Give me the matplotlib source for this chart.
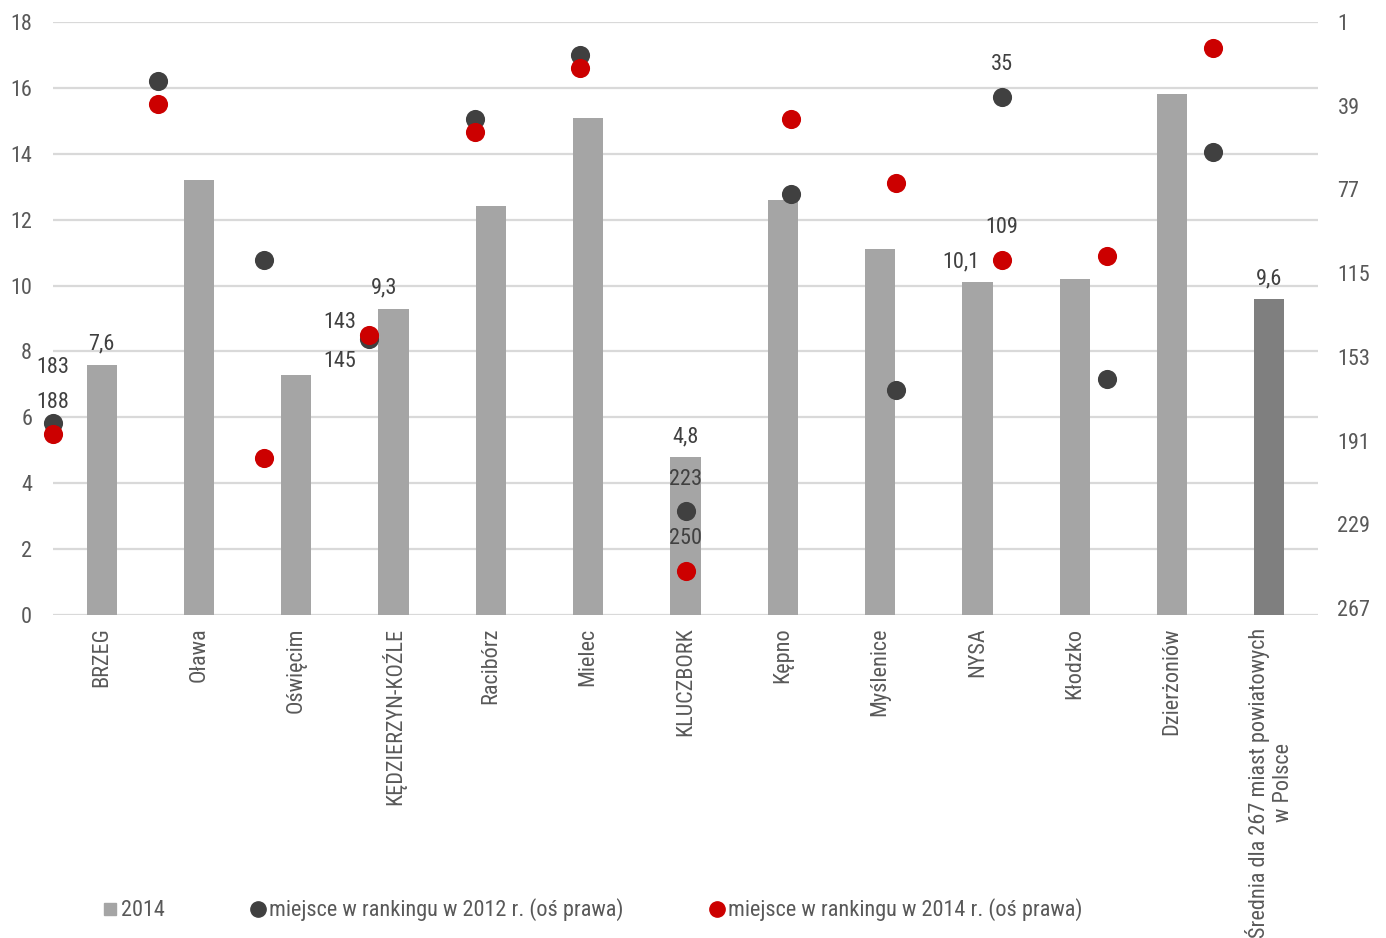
import numpy as np
import matplotlib.pyplot as plt
from matplotlib import font_manager
from matplotlib.lines import Line2D

# waska czcionka jak w oryginale, jesli jest; inaczej Liberation Sans mniejsza
FS = 14.5
for nazwa in ["Liberation Sans Narrow", "Arial Narrow", "Roboto Condensed", "Open Sans Condensed"]:
    try:
        font_manager.findfont(nazwa, fallback_to_default=False)
        plt.rcParams['font.family'] = [nazwa, 'DejaVu Sans']
        FS = 16
        break
    except ValueError:
        plt.rcParams['font.family'] = ['Liberation Sans', 'DejaVu Sans']

miasta = ["BRZEG", "Oława", "Oświęcim", "KĘDZIERZYN-KOŹLE", "Racibórz", "Mielec",
          "KLUCZBORK", "Kępno", "Myślenice", "NYSA", "Kłodzko", "Dzierżoniów",
          "Średnia dla 267 miast powiatowych\nw Polsce"]
wartosci_2014 = [7.6, 13.2, 7.3, 9.3, 12.4, 15.1, 4.8, 12.6, 11.1, 10.1, 10.2, 15.8, 9.6]
miejsce_2012 = [183, 28, 109, 145, 45, 16, 223, 79, 168, 35, 163, 60]
miejsce_2014 = [188, 38, 199, 143, 51, 22, 250, 45, 74, 109, 107, 13]

prawa_ticks = [1, 39, 77, 115, 153, 191, 229, 267]

# etykiety danych (indeks miasta)
etyk_slupki = [0, 3, 6, 9, 12]
etyk_2012 = [0, 3, 6, 9]
etyk_2014 = [0, 3, 6, 9]

txt = "#404040"
szary = "#A5A5A5"

fig = plt.figure(figsize=(13.86, 9.38), dpi=100)
ax = fig.add_axes([53/1386, 1-615/938, 1265/1386, 593/938])

x = np.arange(len(miasta))
kolory = [szary]*(len(miasta)-1) + ["#7F7F7F"]
ax.bar(x, wartosci_2014, width=0.31, color=kolory, zorder=2)
ax.set_xlim(-0.5, len(miasta)-0.5)
ax.set_ylim(0, 18)
ax.set_yticks(range(0, 19, 2))
ax.yaxis.grid(True, color="#D9D9D9", linewidth=1.6)
ax.set_axisbelow(True)
ax.set_xticks(x)
ax.set_xticklabels(miasta, rotation=90, va="top", ha="center", multialignment="center")
ax.tick_params(axis="both", length=0, labelsize=FS, colors="#595959")
ax.tick_params(axis="x", pad=9)
ax.tick_params(axis="y", pad=15)
for s in ax.spines.values():
    s.set_visible(False)

for i in etyk_slupki:
    dx = {3: -7, 9: -12}.get(i, 0)
    ax.annotate(str(wartosci_2014[i]).replace(".", ","), (x[i], wartosci_2014[i]),
                xytext=(dx, 7), textcoords="offset points", ha="center", va="bottom",
                fontsize=FS, color=txt)

ax2 = ax.twinx()
ax2.set_ylim(1 + 593/2.203, 1)
ax2.set_yticks(prawa_ticks)
ax2.tick_params(axis="y", length=0, labelsize=FS, colors="#595959", pad=14)
for s in ax2.spines.values():
    s.set_visible(False)

ax3 = ax2.twiny()
ax3.set_xlim(0, 12)
ax3.xaxis.set_visible(False)
for s in ax3.spines.values():
    s.set_visible(False)
xp = np.arange(len(miejsce_2012))
ax3.scatter(xp, miejsce_2012, s=190, color="#404040", zorder=3, clip_on=False, linewidths=0)
ax3.scatter(xp, miejsce_2014, s=190, color="#CC0000", zorder=4, clip_on=False, linewidths=0)

def etykieta(i, v, dx, dy):
    ax3.annotate(str(v), (xp[i], v), xytext=(dx, dy), textcoords="offset points",
                 ha="center", va="center", fontsize=FS, color=txt)

for i in etyk_2012:
    if i == 0:
        etykieta(i, miejsce_2012[i], 0, 40)
    elif i == 3:
        etykieta(i, miejsce_2012[i], -21, -16)
    else:
        etykieta(i, miejsce_2012[i], 0, 23)
for i in etyk_2014:
    if i == 3:
        etykieta(i, miejsce_2014[i], -21, 9)
    else:
        etykieta(i, miejsce_2014[i], 0, 23)

uchwyty = [
    Line2D([], [], marker="s", linestyle="", color=szary, markersize=9),
    Line2D([], [], marker="o", linestyle="", color="#404040", markersize=11),
    Line2D([], [], marker="o", linestyle="", color="#CC0000", markersize=11),
]
opisy = ["2014", "miejsce w rankingu w 2012 r. (oś prawa)", "miejsce w rankingu w 2014 r. (oś prawa)"]
fig.legend(uchwyty, opisy, loc="center left", bbox_to_anchor=(103/1386, 1-910/938), ncol=3,
           frameon=False, fontsize=FS, labelcolor="#595959", handlelength=0.6,
           handletextpad=0.2, columnspacing=3.9, borderaxespad=0, borderpad=0)

fig.savefig("out.png", dpi=100)
